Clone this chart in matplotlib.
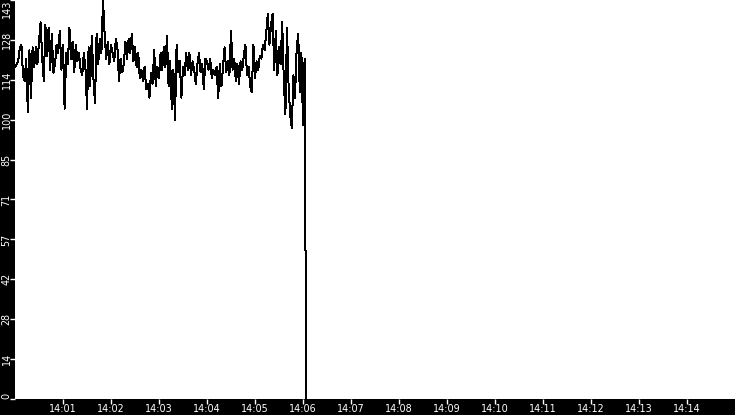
import numpy as np
import matplotlib
matplotlib.use("Agg")
import matplotlib.pyplot as plt
import matplotlib.dates as mdates

# ---- data ----
start_time = "2024-01-01T14:00:00"
end_time = "2024-01-01T14:15:00"
step_seconds = 2
values = [
    119, 120, 121, 126, 127, 116, 114, 122, 103, 125,
    108, 126, 119, 126, 120, 128, 135, 122, 114, 134,
    123, 133, 118, 131, 117, 120, 127, 124, 132, 118,
    127, 104, 124, 120, 133, 122, 128, 117, 127, 121,
    124, 118, 116, 124, 119, 104, 126, 112, 130, 115,
    106, 131, 120, 129, 124, 143, 131, 122, 128, 120,
    127, 124, 121, 129, 126, 114, 122, 117, 120, 128,
    122, 129, 124, 131, 121, 126, 119, 124, 115, 118,
    114, 119, 111, 113, 108, 117, 113, 125, 112, 119,
    115, 124, 118, 126, 119, 130, 112, 121, 104, 118,
    100, 127, 117, 121, 108, 119, 116, 124, 118, 124,
    116, 121, 118, 113, 120, 124, 117, 120, 111, 122,
    121, 118, 122, 115, 118, 116, 119, 108, 120, 112,
    119, 126, 117, 121, 116, 132, 118, 122, 114, 120,
    113, 121, 118, 123, 127, 116, 119, 112, 110, 127,
    115, 121, 118, 123, 122, 127, 125, 131, 138, 127,
    134, 138, 118, 132, 116, 126, 120, 135, 114, 102,
    133, 112, 102, 97, 116, 108, 125, 131, 110, 124,
    98, 122,
]
tail_values = [61, 0]          # the final drop, one second apart
y_max = 143
ytick_labels = ["0", "14", "28", "42", "57", "71", "85", "100", "114", "128", "143"]
xtick_minutes = list(range(1, 15))

# ---- build time axis ----
t0 = np.datetime64(start_time)
n = len(values)
times_main = t0 + np.arange(n) * np.timedelta64(step_seconds, "s")
last = times_main[-1]
times_tail = last + np.arange(1, len(tail_values) + 1) * np.timedelta64(1, "s")
times = np.concatenate([times_main, times_tail]).astype("datetime64[ms]").astype(object)
series = list(values) + list(tail_values)

W, H = 735, 415
fig = plt.figure(figsize=(W / 100, H / 100), dpi=100, facecolor="black")
ax = fig.add_axes([15 / W, 16 / H, 720 / W, 399 / H])
ax.set_facecolor("white")

ax.plot(times, series, color="black", linewidth=0.72, antialiased=False)

ax.set_xlim(np.datetime64(start_time).astype("datetime64[ms]").astype(object),
            np.datetime64(end_time).astype("datetime64[ms]").astype(object))
ax.set_ylim(0, y_max)

xticks = [(t0 + np.timedelta64(m, "m")).astype("datetime64[ms]").astype(object) for m in xtick_minutes]
ax.set_xticks(xticks)
ax.xaxis.set_major_formatter(mdates.DateFormatter("%H:%M"))

ax.set_yticks(np.linspace(0, y_max, len(ytick_labels)))
ax.set_yticklabels(ytick_labels)

for s in ax.spines.values():
    s.set_visible(False)

ax.tick_params(axis="x", colors="white", length=3.6, width=1, pad=0, labelsize=6.9)
ax.tick_params(axis="y", colors="white", length=3.6, width=1, pad=-1.2, labelsize=6.9)
for lab in ax.get_yticklabels():
    lab.set_rotation(90)
    lab.set_va("center")
labs = ax.get_yticklabels()
labs[-1].set_va("top")
labs[0].set_va("bottom")

fig.savefig("out.png", dpi=100, facecolor="black")
